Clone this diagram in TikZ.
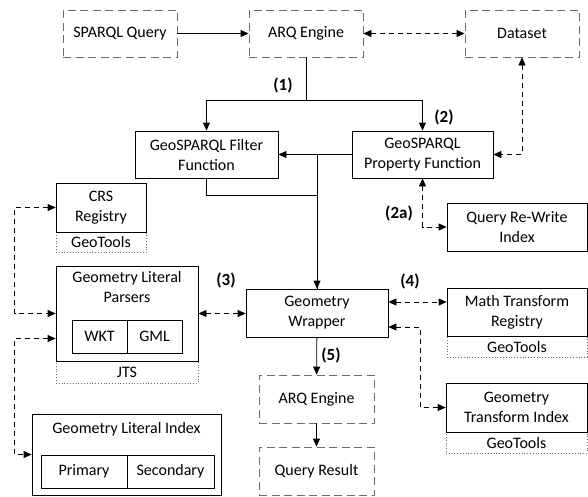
\documentclass[tikz,border=0pt]{standalone}
\usepackage{fontspec}
\setmainfont{Carlito}
\usepackage{tikz}
\usetikzlibrary{calc,positioning,arrows.meta}
\definecolor{boxgray}{rgb}{0.42,0.42,0.42}
\tikzset{
	>={Triangle[length=8pt,width=7pt]},
	x=1pt, y=-1pt,
	every node/.style={font=\fontsize{16}{20}\selectfont, align=center, inner sep=0pt},
	box/.style={draw, thick, fill=white, minimum height=48pt},
	dbox/.style={draw=boxgray, thick, dash pattern=on 8pt off 4.5pt, minimum height=47pt, minimum width=114pt},
	lib/.style={draw=boxgray, thick, dotted, minimum height=21pt},
	part/.style={draw, thick, minimum height=33pt},
	lbl/.style={font=\fontsize{17}{20}\bfseries\selectfont},
	flow/.style={->, thick},
	link/.style={<->, thick, dash pattern=on 5pt off 4pt},
}

\begin{document}
\begin{tikzpicture}
		\useasboundingbox (0,0) rectangle (588,496);

		\node[dbox] (sparql) at (120,33.5) {SPARQL Query};
		\node[dbox] (arq) at (306,33.5) {ARQ Engine};
		\node[dbox] (data) at (522,33.5) {Dataset};

		\node[box, minimum width=143pt, minimum height=47pt] (filter) at (206.5,154.5) {GeoSPARQL Filter\\Function};
		\node[box, minimum width=141pt, minimum height=47pt] (prop) at (422.5,154.5) {GeoSPARQL\\Property Function};

		\node[lib, minimum width=90pt] (crslib) at (101,242) {GeoTools};
		\node[box, minimum width=90pt, minimum height=49pt] (crs) at (101,207.5) {CRS\\Registry};

		\node[lib, minimum width=142pt, minimum height=22pt] (jts) at (127,372) {JTS};
		\node[box, minimum width=142pt, minimum height=95pt, label={[below=6pt]north:Geometry Literal\\Parsers}] (parsers) at (127,313.5) {};
		\node[part, minimum width=55pt] (wkt) at (99.5,336.5) {WKT};
		\node[part, minimum width=55pt] (gml) at (154.5,336.5) {GML};

		\node[box, minimum width=189pt, minimum height=81pt, label={[below=9pt]north:Geometry Literal Index}] (index) at (126.5,454.5) {};
		\node[part, minimum width=86pt] (primary) at (84,471.5) {Primary};
		\node[part, minimum width=87pt] (secondary) at (170.5,471.5) {Secondary};

		\node[box, minimum width=140pt] (rewrite) at (517,227) {Query Re-Write\\Index};
		\node[box, minimum width=142pt] (wrapper) at (317,313) {Geometry\\Wrapper};

		\node[lib, minimum width=140pt] (mathlib) at (517,346.5) {GeoTools};
		\node[box, minimum width=140pt] (math) at (517,312) {Math Transform\\Registry};

		\node[lib, minimum width=141pt] (gtilib) at (516.5,442.5) {GeoTools};
		\node[box, minimum width=141pt, minimum height=49pt] (gti) at (516.5,407.5) {Geometry\\Transform Index};

		\node[dbox, minimum width=115pt, minimum height=48pt] (arqb) at (316.5,399) {ARQ Engine};
		\node[dbox, minimum width=115pt, minimum height=48pt] (result) at (316.5,471) {Query Result};

		\node[lbl] (l1) at (283,85) {(1)};
		\node[lbl] (l2) at (444,117) {(2)};
		\node[lbl] (l2a) at (399,213) {(2a)};
		\node[lbl] (l3) at (226,280) {(3)};
		\node[lbl] (l4) at (410,281) {(4)};
		\node[lbl] (l5) at (331,355) {(5)};

		\coordinate (split) at (306,100);
		\draw[flow] (sparql) -- (arq);
		\draw[link] (arq) -- (data);
		\draw[thick] (arq.south) -- (split);
		\draw[flow] (split) -| (filter.north);
		\draw[flow] (split) -| (prop.north);
		\draw[flow] (prop) -- (filter);
		\draw[link] (data.south) |- (prop.east);
		\draw[link] (prop.south) |- (rewrite.west);
		\draw[flow] (wrapper.north |- prop.west) -- (wrapper.north);
		\draw[thick] (filter.south) -- ++(0,17) -| (wrapper.north);
		\draw[link] (parsers.east) -- (parsers.east -| wrapper.west);
		\draw[link] ([yshift=11pt]wrapper.east) -- ([yshift=11pt]wrapper.east -| math.west);
		\draw[link] ([yshift=-14pt]wrapper.east) -- ++(32,0) |- (gti.west);
		\draw[link] (crs.west) -- ++(-41,0) |- (parsers.west);
		\draw[link] ([yshift=-25pt]parsers.west) -- ++(-41,0) |- (index.west);
		\draw[flow] (wrapper) -- (arqb);
		\draw[flow] (arqb) -- (result);
	\end{tikzpicture}
\end{document}
